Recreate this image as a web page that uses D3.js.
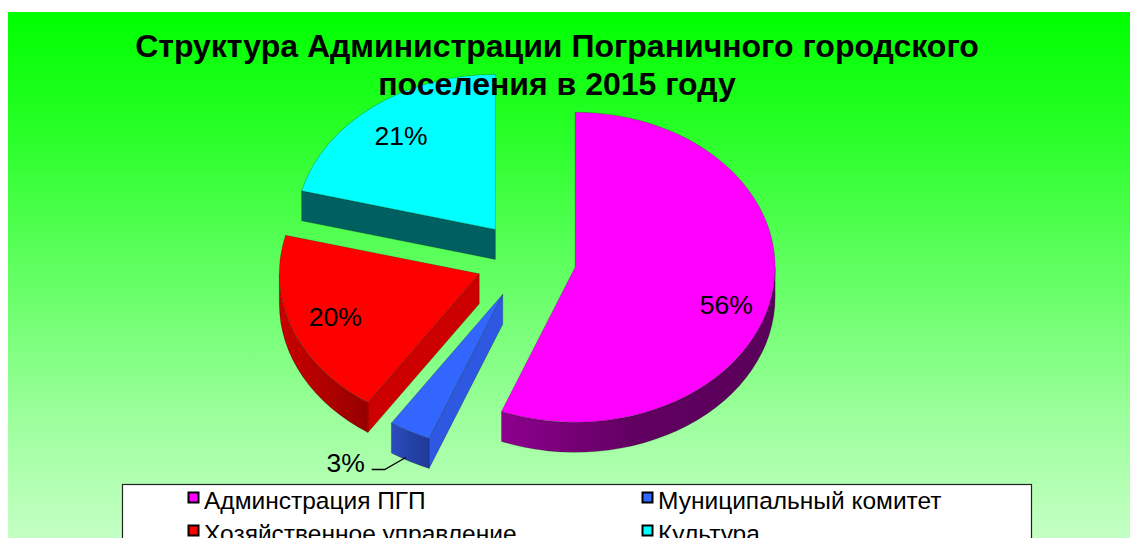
<!DOCTYPE html>
<html><head><meta charset="utf-8">
<script src="https://cdn.jsdelivr.net/npm/d3@7/dist/d3.min.js"></script>
<style>html,body{margin:0;padding:0;background:#fff;}svg{display:block;}</style>
</head><body>
<script>
const titleLines = ["Структура Администрации Пограничного городского", "поселения в 2015 году"];
const categories = ["Админстрация ПГП", "Муниципальный комитет", "Хозяйственное управление", "Культура"];
const values = [56.0, 3.4, 19.6, 21.0];
const colors = ["#ff00ff", "#3366ff", "#ff0000", "#00ffff"];
const sideColors = [["#8e008e", "#600060", "#5a005a"], ["#2d4cc0", "#2442a8", "#203a98"], ["#c80000", "#b00000", "#960000"], ["#006666", "#006060", "#005858"]];
const faceColors = ["#7a007a", "#2e58e2", "#cc0000", "#006060"];

const W = 1130, H = 538;
const svg = d3.select("body").append("svg").attr("width", W).attr("height", H);
const defs = svg.append("defs");
const total = d3.sum(values);
const pctFmt = d3.format(".0%");

// background
const bg = defs.append("linearGradient").attr("id", "bg").attr("gradientUnits", "userSpaceOnUse")
  .attr("x1", 0).attr("y1", 12).attr("x2", 0).attr("y2", 538);
[[0, "#00ff00"], [0.2, "#22ff22"], [0.77, "#9cff9c"], [1, "#c4ffc4"]].forEach(([o, c]) =>
  bg.append("stop").attr("offset", o).attr("stop-color", c));
svg.append("rect").attr("x", 8).attr("y", 12).attr("width", W - 8).attr("height", H - 12).attr("fill", "url(#bg)");

// pie geometry
const cx = 526, cy = 260, rx = 200, ry = 155, depth = 30, explode = 50;
const arcs = d3.pie().sort(null).startAngle(0).endAngle(2 * Math.PI)(values);
const sx = d3.scaleLinear().domain([-1, 1]).range([-rx, rx]);
const sy = d3.scaleLinear().domain([-1, 1]).range([-ry, ry]);

function apexOf(a) {
  const m = (a.startAngle + a.endAngle) / 2;
  return [cx + explode * Math.sin(m), cy - explode * (ry / rx) * Math.cos(m)];
}
function pt(o, th, dz = 0) { return [o[0] + sx(Math.sin(th)), o[1] + sy(-Math.cos(th)) + dz]; }
function f(p) { return p[0].toFixed(2) + "," + p[1].toFixed(2); }

const g = svg.append("g");
const drawOrder = [3, 0, 2, 1];
drawOrder.forEach(i => {
  const a = arcs[i], o = apexOf(a);
  const a0 = a.startAngle, a1 = a.endAngle;
  const sg = g.append("g");
  const gr = defs.append("linearGradient").attr("id", "side" + i).attr("x1", 0).attr("y1", 0).attr("x2", 1).attr("y2", 0);
  sideColors[i].forEach((c, k) => gr.append("stop").attr("offset", k / 2).attr("stop-color", c));
  if (Math.sin(a0) < -1e-6) {
    const p = pt(o, a0);
    sg.append("path").attr("d", `M${f(o)}L${f(p)}L${f([p[0], p[1] + depth])}L${f([o[0], o[1] + depth])}Z`)
      .attr("fill", faceColors[i]).attr("stroke", "rgba(0,0,0,0.35)").attr("stroke-width", 0.6);
  }
  if (Math.sin(a1) > 1e-6) {
    const p = pt(o, a1);
    sg.append("path").attr("d", `M${f(o)}L${f(p)}L${f([p[0], p[1] + depth])}L${f([o[0], o[1] + depth])}Z`)
      .attr("fill", faceColors[i]).attr("stroke", "rgba(0,0,0,0.35)").attr("stroke-width", 0.6);
  }
  const s0 = Math.max(a0, Math.PI / 2), s1 = Math.min(a1, 3 * Math.PI / 2);
  if (s1 > s0) {
    const large = (s1 - s0) > Math.PI ? 1 : 0;
    const p0 = pt(o, s0), p1 = pt(o, s1);
    sg.append("path").attr("d",
      `M${f(p0)}A${rx},${ry} 0 ${large} 1 ${f(p1)}L${f([p1[0], p1[1] + depth])}A${rx},${ry} 0 ${large} 0 ${f([p0[0], p0[1] + depth])}Z`)
      .attr("fill", `url(#side${i})`).attr("stroke", "rgba(0,0,0,0.35)").attr("stroke-width", 0.6);
  }
  const large = (a1 - a0) > Math.PI ? 1 : 0;
  sg.append("path").attr("d", `M${f(o)}L${f(pt(o, a0))}A${rx},${ry} 0 ${large} 1 ${f(pt(o, a1))}Z`)
    .attr("fill", colors[i]).attr("stroke", "rgba(0,0,0,0.35)").attr("stroke-width", 0.6);
});

// labels
const lab = svg.append("g").attr("font-family", "Liberation Sans, Arial, sans-serif").attr("font-size", 26.5);
arcs.forEach((a, i) => {
  const o = apexOf(a), m = (a.startAngle + a.endAngle) / 2;
  const share = values[i] / total;
  const txt = pctFmt(share);
  if (share >= 0.05) {
    const p = [o[0] + 0.77 * sx(Math.sin(m)), o[1] + 0.77 * sy(-Math.cos(m)) + 0.5 * depth * Math.max(0, Math.sin(m))];
    lab.append("text").attr("x", p[0]).attr("y", p[1] + 9.5).attr("text-anchor", "middle").text(txt);
  } else {
    const q = pt(o, m, depth - 4);
    const p0 = [q[0] - 4, q[1]];
    const p1 = [p0[0] - 21, p0[1] + 12], p2 = [p1[0] - 13, p1[1]];
    lab.append("path").attr("d", `M${f(p0)}L${f(p1)}L${f(p2)}`).attr("fill", "none").attr("stroke", "#000").attr("stroke-width", 1.3);
    lab.append("text").attr("x", p2[0] - 7).attr("y", p2[1] + 2).attr("text-anchor", "end").text(txt);
  }
});

// title (drawn over the pie)
const title = svg.append("text").attr("text-anchor", "middle")
  .attr("font-family", "Liberation Sans, Arial, sans-serif").attr("font-weight", "bold").attr("font-size", 32);
titleLines.forEach((t, i) => title.append("tspan").attr("x", 557).attr("y", 57 + i * 38).text(t));

// legend
const lg = svg.append("g");
lg.append("rect").attr("x", 122.5).attr("y", 484.5).attr("width", 909).attr("height", 80)
  .attr("fill", "#fff").attr("stroke", "#222").attr("stroke-width", 1.2);
const colX = [188, 642], rowY = [492, 525];
categories.forEach((c, i) => {
  const col = i % 2, row = Math.floor(i / 2);
  const x = colX[col], y = rowY[row];
  lg.append("rect").attr("x", x + 0.5).attr("y", y + 0.5).attr("width", 10).attr("height", 10)
    .attr("fill", colors[i]).attr("stroke", "#000").attr("stroke-width", 2);
  lg.append("text").attr("x", x + 16).attr("y", y + 16.5)
    .attr("font-family", "Liberation Sans, Arial, sans-serif").attr("font-size", 24.5).text(c);
});
</script>
</body></html>
